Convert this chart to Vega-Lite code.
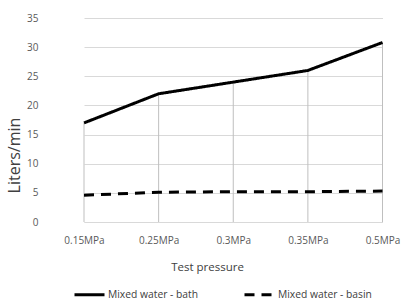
{
  "$schema": "https://vega.github.io/schema/vega-lite/v6.json",
  "autosize": "none",
  "width": 355,
  "height": 204,
  "padding": {"left": 47, "top": 18, "right": 0, "bottom": 79},
  "background": "white",
  "config": {"view": {"stroke": null}, "font": "Open Sans"},
  "data": {
    "values": [
      {"pressure": "0.15MPa", "series": "Mixed water - bath", "value": 17},
      {"pressure": "0.25MPa", "series": "Mixed water - bath", "value": 22},
      {"pressure": "0.3MPa", "series": "Mixed water - bath", "value": 24},
      {"pressure": "0.35MPa", "series": "Mixed water - bath", "value": 26},
      {"pressure": "0.5MPa", "series": "Mixed water - bath", "value": 30.8},
      {"pressure": "0.15MPa", "series": "Mixed water - basin", "value": 4.6},
      {"pressure": "0.25MPa", "series": "Mixed water - basin", "value": 5.1},
      {"pressure": "0.3MPa", "series": "Mixed water - basin", "value": 5.2},
      {"pressure": "0.35MPa", "series": "Mixed water - basin", "value": 5.2},
      {"pressure": "0.5MPa", "series": "Mixed water - basin", "value": 5.3}
    ]
  },
  "encoding": {
    "x": {
      "field": "pressure",
      "type": "ordinal",
      "sort": ["0.15MPa", "0.25MPa", "0.3MPa", "0.35MPa", "0.5MPa"],
      "scale": {"type": "point", "range": [37, 335.5], "padding": 0},
      "axis": {
        "title": "Test pressure",
        "grid": false,
        "domainColor": "#d9d9d9",
        "ticks": false,
        "labelAngle": 0,
        "labelPadding": 13,
        "labelFontSize": 10,
        "labelColor": "#595959",
        "titleFontSize": 11.5,
        "titleFontWeight": "normal",
        "titleColor": "#404040",
        "titleX": 160,
        "titleY": 45,
        "titleBaseline": "middle",
        "titleAlign": "center"
      }
    },
    "y": {
      "field": "value",
      "type": "quantitative",
      "scale": {"domain": [0, 35], "nice": false, "zero": true},
      "axis": {
        "title": "Liters/min",
        "values": [0, 5, 10, 15, 20, 25, 30, 35],
        "grid": true,
        "gridColor": "#d9d9d9",
        "domain": false,
        "ticks": false,
        "labelPadding": 9,
        "labelFontSize": 10,
        "labelColor": "#595959",
        "titleFontSize": 16,
        "titleFontWeight": "normal",
        "titleColor": "#404040",
        "titleX": -33,
        "titleY": 137,
        "titleAngle": 270,
        "titleBaseline": "middle",
        "titleAlign": "center"
      }
    }
  },
  "layer": [
    {
      "transform": [{"filter": "datum.series === 'Mixed water - bath'"}],
      "mark": {"type": "rule", "color": "#bfbfbf", "strokeWidth": 1},
      "encoding": {"y2": {"datum": 0}}
    },
    {
      "mark": {"type": "line", "strokeWidth": 3, "color": "black"},
      "encoding": {
        "strokeDash": {
          "field": "series",
          "type": "nominal",
          "scale": {
            "domain": ["Mixed water - bath", "Mixed water - basin"],
            "range": [[1, 0], [10, 7]]
          },
          "legend": {
            "orient": "none",
            "legendX": 26,
            "legendY": 260,
            "direction": "horizontal",
            "title": null,
            "symbolType": "stroke",
            "symbolSize": 900,
            "symbolStrokeWidth": 3,
            "symbolStrokeColor": "black",
            "labelFont": "Open Sans",
            "labelFontSize": 10.3,
            "labelColor": "#404040",
            "labelOffset": 2,
            "columnPadding": 39,
            "padding": 0
          }
        }
      }
    }
  ]
}
